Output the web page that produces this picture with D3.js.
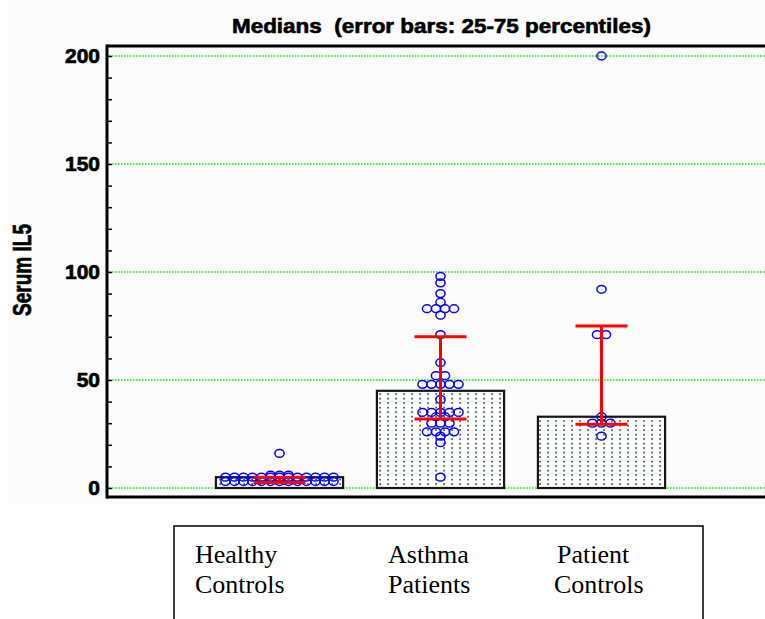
<!DOCTYPE html>
<html>
<head>
<meta charset="utf-8">
<script src="https://cdn.jsdelivr.net/npm/d3@7"></script>
<style>
  html, body { margin: 0; padding: 0; background: #ffffff; }
  svg { display: block; }
  .heavy { white-space: pre; }
</style>
</head>
<body>
<svg id="chart" width="765" height="619"></svg>
<script>
// ---- data ----
var categories = ["Healthy Controls", "Asthma Patients", "Patient Controls"];
var medians = [5, 45, 33];
var q1 = [2.5, 32, 29.5];
var q3 = [5, 70, 75];

var healthyValues = [16, 6, 6, 6,
  5, 5, 5, 5, 5, 5, 5, 5, 5, 5, 5, 5, 5,
  3, 3, 3, 3, 3, 3, 3, 3, 3, 3, 3, 3, 3];
var asthmaValues = [98, 95, 90, 86, 83, 83, 83, 83, 80, 71, 58, 52, 52,
  48, 48, 48, 48, 48, 41, 35, 35, 35, 35, 35, 33, 33, 30, 30, 30,
  26, 26, 26, 26, 24, 21, 5];
var patientValues = [200, 92, 71, 71, 33, 30, 30, 30, 24];

var yTicks = [0, 50, 100, 150, 200];
var minorTicks = d3.range(0, 201, 10);
var captionLines = [["Healthy", "Controls"], ["Asthma", "Patients"], ["Patient", "Controls"]];

var title = "Medians  (error bars: 25-75 percentiles)";
var yLabel = "Serum IL5";

// ---- layout ----
var width = 765;
var plotLeft = 107, plotTop = 46, plotBottom = 497;
var boldFont = "'Liberation Sans', Arial, sans-serif";

var svg = d3.select("#chart");

var y = d3.scaleLinear().domain([0, 200]).range([488, 56]);
var x = d3.scaleBand().domain(categories).range([199, 682])
    .paddingInner(0.21).paddingOuter(0.105);

var defs = svg.append("defs");
var pat = defs.append("pattern")
    .attr("id", "dots")
    .attr("patternUnits", "userSpaceOnUse")
    .attr("width", 8).attr("height", 4.5);
pat.append("rect").attr("width", 8).attr("height", 4.5).attr("fill", "#ffffff");
pat.append("rect").attr("x", 3.3).attr("y", 1.8).attr("width", 1.6).attr("height", 1.6).attr("fill", "#1f3f22");

// light chart background
svg.append("rect")
    .attr("x", 7).attr("y", 0)
    .attr("width", width - 7).attr("height", 504)
    .attr("fill", "#fcfcfc");

// title
svg.append("text")
    .attr("class", "heavy")
    .attr("x", 441.5).attr("y", 33)
    .attr("text-anchor", "middle")
    .attr("font-family", boldFont)
    .attr("font-weight", "bold")
    .attr("font-size", 20)
    .attr("stroke", "#000").attr("stroke-width", 0.6)
    .attr("textLength", 419)
    .attr("lengthAdjust", "spacingAndGlyphs")
    .text(title);

// gridlines
svg.append("g")
  .selectAll("line")
  .data(yTicks)
  .enter().append("line")
    .attr("x1", plotLeft + 2).attr("x2", width)
    .attr("y1", function(d) { return y(d); })
    .attr("y2", function(d) { return y(d); })
    .attr("stroke", "#0be80b")
    .attr("stroke-width", 1.5)
    .attr("stroke-dasharray", "1.5,1.5");

// bars
svg.append("g")
  .selectAll("rect")
  .data(categories)
  .enter().append("rect")
    .attr("x", function(d) { return x(d); })
    .attr("width", x.bandwidth())
    .attr("y", function(d, i) { return y(medians[i]); })
    .attr("height", function(d, i) { return y(0) - y(medians[i]); })
    .attr("fill", "url(#dots)")
    .attr("stroke", "#151515")
    .attr("stroke-width", 2.2);

// points: equal values are spread sideways around the bar centre
var step = 9;
var allValues = [healthyValues, asthmaValues, patientValues];
var points = [];
allValues.forEach(function(vals, i) {
  var cx = x(categories[i]) + x.bandwidth() / 2;
  var groups = d3.groups(vals, function(v) { return v; });
  groups.forEach(function(g) {
    var n = g[1].length;
    g[1].forEach(function(v, k) {
      points.push({ x: cx + (k - (n - 1) / 2) * step, value: v });
    });
  });
});

svg.append("g")
  .selectAll("ellipse")
  .data(points)
  .enter().append("ellipse")
    .attr("cx", function(d) { return d.x; })
    .attr("cy", function(d) { return y(d.value); })
    .attr("rx", 4.6).attr("ry", 3.9)
    .attr("fill", "none")
    .attr("stroke", "#0000ff")
    .attr("stroke-width", 1.5);

// error bars
var capHalf = 26;
var err = svg.append("g")
  .selectAll("g")
  .data(categories)
  .enter().append("g")
    .attr("stroke", "#ff0000")
    .attr("stroke-width", 3);

err.append("line")
    .attr("x1", function(d) { return x(d) + x.bandwidth() / 2; })
    .attr("x2", function(d) { return x(d) + x.bandwidth() / 2; })
    .attr("y1", function(d, i) { return y(q1[i]); })
    .attr("y2", function(d, i) { return y(q3[i]); });
err.append("line")
    .attr("x1", function(d) { return x(d) + x.bandwidth() / 2 - capHalf; })
    .attr("x2", function(d) { return x(d) + x.bandwidth() / 2 + capHalf; })
    .attr("y1", function(d, i) { return y(q1[i]); })
    .attr("y2", function(d, i) { return y(q1[i]); });
err.append("line")
    .attr("x1", function(d) { return x(d) + x.bandwidth() / 2 - capHalf; })
    .attr("x2", function(d) { return x(d) + x.bandwidth() / 2 + capHalf; })
    .attr("y1", function(d, i) { return y(q3[i]); })
    .attr("y2", function(d, i) { return y(q3[i]); });

// y axis: inward minor ticks + bold labels
var minorAxis = svg.append("g")
    .attr("transform", "translate(" + plotLeft + ",0)")
    .call(d3.axisLeft(y).tickValues(minorTicks).tickSize(-5).tickFormat(""));
minorAxis.select(".domain").remove();
minorAxis.selectAll("line").attr("stroke", "#000").attr("stroke-width", 1.5);

var labelAxis = svg.append("g")
    .attr("transform", "translate(" + plotLeft + ",0)")
    .call(d3.axisLeft(y).tickValues(yTicks).tickSize(0).tickPadding(7));
labelAxis.select(".domain").remove();
labelAxis.selectAll("text")
    .attr("font-family", boldFont)
    .attr("font-weight", "bold")
    .attr("font-size", 21)
    .attr("stroke", "#000").attr("stroke-width", 0.7)
    .attr("fill", "#000");

// frame
var frame = svg.append("g").attr("stroke", "#000").attr("stroke-width", 3);
frame.append("line").attr("x1", plotLeft).attr("x2", plotLeft).attr("y1", plotTop - 1.5).attr("y2", plotBottom + 1.5);
frame.append("line").attr("x1", plotLeft).attr("x2", width).attr("y1", plotTop).attr("y2", plotTop);
frame.append("line").attr("x1", plotLeft).attr("x2", width).attr("y1", plotBottom).attr("y2", plotBottom);

// y label
svg.append("text")
    .attr("transform", "translate(31,270) rotate(-90)")
    .attr("text-anchor", "middle")
    .attr("font-family", boldFont)
    .attr("font-weight", "bold")
    .attr("font-size", 26)
    .attr("stroke", "#000").attr("stroke-width", 0.7)
    .attr("textLength", 92)
    .attr("lengthAdjust", "spacingAndGlyphs")
    .text(yLabel);

// caption box under the chart
svg.append("rect")
    .attr("x", 174).attr("y", 526)
    .attr("width", 529).attr("height", 110)
    .attr("fill", "#fff")
    .attr("stroke", "#000")
    .attr("stroke-width", 1.5);

var captionX = [[195, 195], [388, 388], [557, 554]];
var caption = svg.append("g")
    .attr("font-family", "'Liberation Serif', 'Times New Roman', serif")
    .attr("font-size", 26)
    .attr("fill", "#000");
captionLines.forEach(function(lines, i) {
  lines.forEach(function(t, k) {
    caption.append("text")
        .attr("x", captionX[i][k])
        .attr("y", 563 + k * 30)
        .text(t);
  });
});
</script>
</body>
</html>
